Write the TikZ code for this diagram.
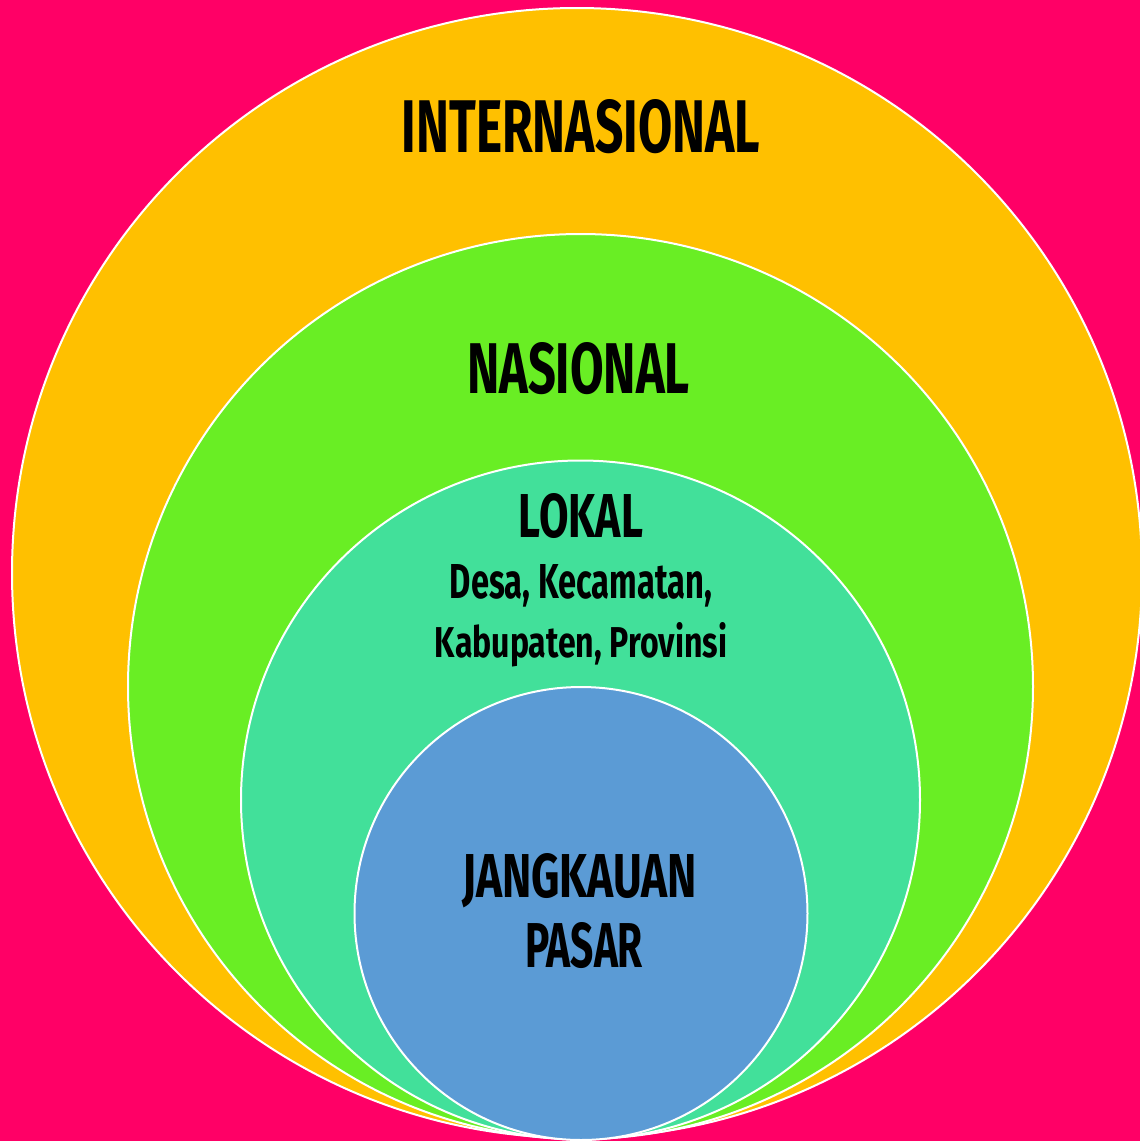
\documentclass[tikz,border=0pt]{standalone}
\usepackage{fontspec}
\setmainfont{Fira Sans}
\usepackage{graphicx}
\definecolor{bgmag}{HTML}{FF0066}
\definecolor{corange}{HTML}{FFC000}
\definecolor{cgreen}{HTML}{69EE24}
\definecolor{cteal}{HTML}{42E09A}
\definecolor{cblue}{HTML}{5B9BD5}
\tikzset{
  ring/.style={draw=white, line width=2pt},
  lbl/.style={inner sep=0pt, anchor=base, text=black},
}
\newcommand{\fitt}[3]{\resizebox{#1pt}{#2pt}{\bfseries #3}}
\begin{document}
\begin{tikzpicture}[x=1pt,y=-1pt]
\fill[bgmag] (0,0) rectangle (1140,1141);
\useasboundingbox (0,0) rectangle (1140,1141);
\path[ring, fill=corange] (577,573) circle[radius=565];
\path[ring, fill=cgreen] (580.5,686.5) circle[radius=452.5];
\path[ring, fill=cteal] (580.5,800) circle[radius=339.5];
\path[ring, fill=cblue] (581,913.5) circle[radius=226.5];
\node[lbl] (intl) at (581,152) {\fitt{358}{53}{INTERNASIONAL}};
\node[lbl] (nas) at (578.5,393) {\fitt{223}{51}{NASIONAL}};
\node[lbl] (lok) at (581,537) {\fitt{124}{44}{LOKAL}};
\node[lbl] (desa) at (581,598) {\fitt{262}{34}{Desa, Kecamatan,}};
\node[lbl] (kab) at (581,657) {\fitt{292}{35}{Kabupaten, Provinsi}};
\node[lbl] (jang) at (579.5,897) {\fitt{235}{44}{JANGKAUAN}};
\node[lbl] (pasar) at (584,967) {\fitt{118}{45}{PASAR}};
\end{tikzpicture}
\end{document}
